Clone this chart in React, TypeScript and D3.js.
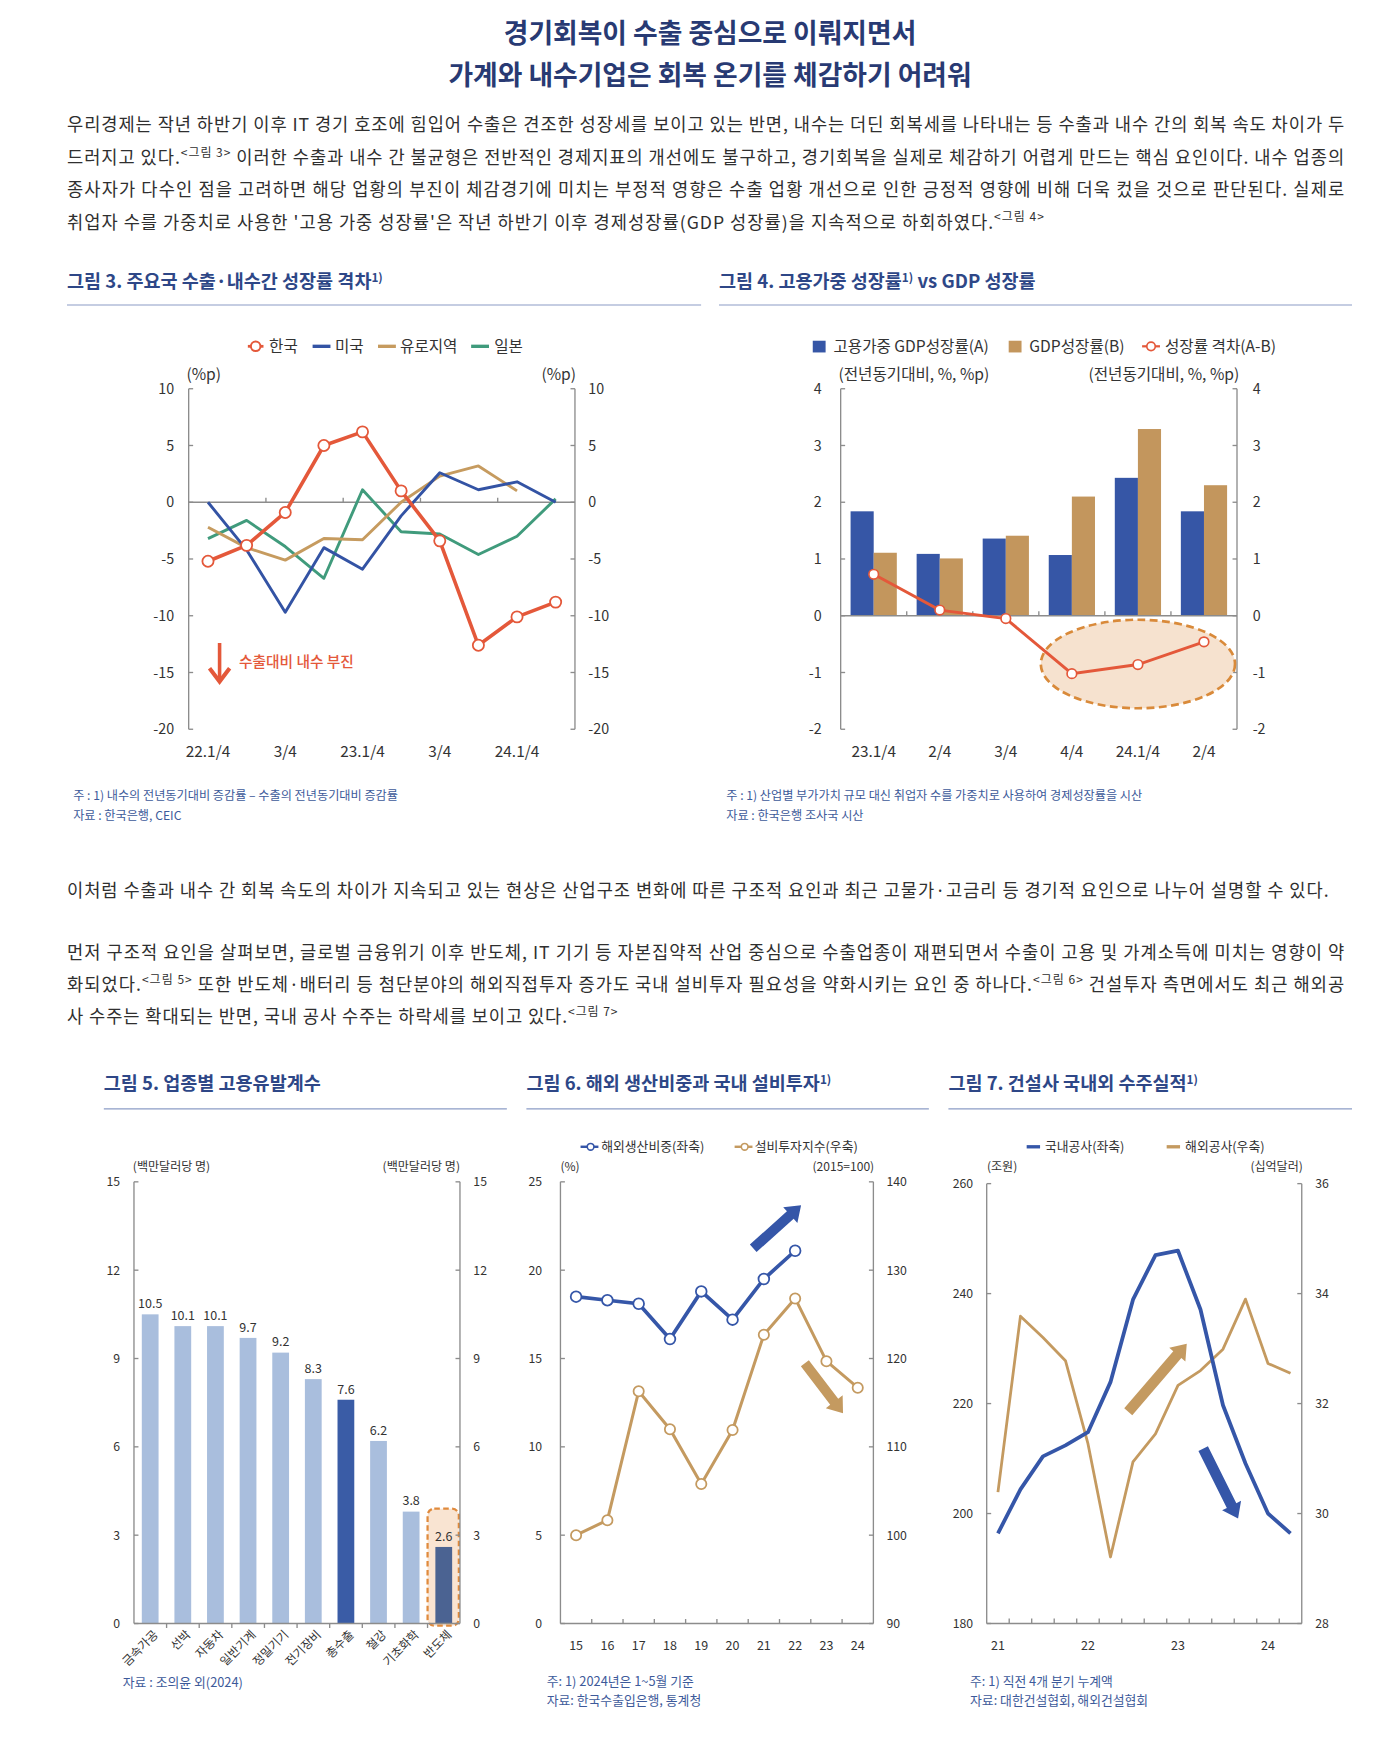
import React from 'react';
import * as d3 from 'd3';

const FONT = "'Noto Sans CJK KR', 'Noto Sans', sans-serif";
const AXIS = '#8c8c8c';
const TXT = '#333333';
const NAVY = '#2e4787';
const NOTE = '#3d5a9a';

// ---------- Figure 3 data ----------
const fig3TickLabels = ['22.1/4', '', '3/4', '', '23.1/4', '', '3/4', '', '24.1/4', ''];
const fig3Korea = [-5.2, -3.8, -0.9, 5.0, 6.2, 1.0, -3.4, -12.6, -10.1, -8.8];
const fig3US = [0.0, -4.2, -9.7, -4.0, -5.9, -1.2, 2.6, 1.1, 1.8, 0.0];
const fig3Euro = [-2.2, -4.0, -5.1, -3.2, -3.3, 0.0, 2.3, 3.2, 1.0, null];
const fig3Japan = [-3.2, -1.6, -3.9, -6.7, 1.1, -2.6, -2.8, -4.6, -3.0, 0.3];
const fig3YTicks = [-20, -15, -10, -5, 0, 5, 10];
const fig3Arrow = [[0.3, -12.4], [0.3, -15.8]];

// ---------- Figure 4 data ----------
const fig4Cats = ['23.1/4', '2/4', '3/4', '4/4', '24.1/4', '2/4'];
const fig4EmpGDP = [1.84, 1.09, 1.36, 1.07, 2.43, 1.84];
const fig4GDP = [1.11, 1.01, 1.41, 2.10, 3.29, 2.30];
const fig4Gap = [0.73, 0.10, -0.05, -1.02, -0.86, -0.46];
const fig4YTicks = [-2, -1, 0, 1, 2, 3, 4];

// ---------- Figure 5 data ----------
const fig5Cats = ['금속가공', '선박', '자동차', '일반기계', '정밀기기', '전기장비', '총수출', '철강', '기초화학', '반도체'];
const fig5Vals = [10.5, 10.1, 10.1, 9.7, 9.2, 8.3, 7.6, 6.2, 3.8, 2.6];
const fig5YTicks = [0, 3, 6, 9, 12, 15];

// ---------- Figure 6 data ----------
const fig6Years = ['15', '16', '17', '18', '19', '20', '21', '22', '23', '24'];
const fig6Share = [18.5, 18.3, 18.1, 16.1, 18.8, 17.2, 19.5, 21.1];
const fig6Capex = [100.0, 101.7, 116.3, 112.0, 105.8, 111.9, 122.7, 126.8, 119.7, 116.7];
const fig6LeftTicks = [0, 5, 10, 15, 20, 25];
const fig6RightTicks = [90, 100, 110, 120, 130, 140];
const fig6ArrowUp = [[5.66, 21.24], [7.19, 23.67]];
const fig6ArrowDown = [[7.31, 14.73], [8.53, 11.9]];

// ---------- Figure 7 data ----------
const fig7TickLabels = ['21', '', '', '', '22', '', '', '', '23', '', '', '', '24', ''];
const fig7Domestic = [196.4, 204.4, 210.4, 212.4, 214.8, 223.9, 238.9, 247.0, 247.8, 237.1, 219.7, 209.1, 200.0, 196.4];
const fig7Overseas = [30.39, 33.59, 33.2, 32.78, 31.27, 29.21, 30.94, 31.45, 32.33, 32.6, 32.99, 33.9, 32.73, 32.55];
const fig7LeftTicks = [180, 200, 220, 240, 260];
const fig7RightTicks = [28, 30, 32, 34, 36];
const fig7ArrowUp = [[5.79, 218.5], [8.39, 230.9]];
const fig7ArrowDown = [[9.12, 211.8], [10.67, 199.1]];

// ---------- text ----------
const PARA1 = [
  ['우리경제는 작년 하반기 이후 IT 경기 호조에 힘입어 수출은 견조한 성장세를 보이고 있는 반면, 내수는 더딘 회복세를 나타내는 등 수출과 내수 간의 회복 속도 차이가 두'],
  ['드러지고 있다.', { sup: '<그림 3>' }, ' 이러한 수출과 내수 간 불균형은 전반적인 경제지표의 개선에도 불구하고, 경기회복을 실제로 체감하기 어렵게 만드는 핵심 요인이다. 내수 업종의'],
  ['종사자가 다수인 점을 고려하면 해당 업황의 부진이 체감경기에 미치는 부정적 영향은 수출 업황 개선으로 인한 긍정적 영향에 비해 더욱 컸을 것으로 판단된다. 실제로'],
  ["취업자 수를 가중치로 사용한 '고용 가중 성장률'은 작년 하반기 이후 경제성장률(GDP 성장률)을 지속적으로 하회하였다.", { sup: '<그림 4>' }],
];
const PARA1_W = [1144, 1144, 1144, 875];
const PARA2 = [
  ['이처럼 수출과 내수 간 회복 속도의 차이가 지속되고 있는 현상은 산업구조 변화에 따른 구조적 요인과 최근 고물가·고금리 등 경기적 요인으로 나누어 설명할 수 있다.'],
  ['먼저 구조적 요인을 살펴보면, 글로벌 금융위기 이후 반도체, IT 기기 등 자본집약적 산업 중심으로 수출업종이 재편되면서 수출이 고용 및 가계소득에 미치는 영향이 약'],
  ['화되었다.', { sup: '<그림 5>' }, ' 또한 반도체·배터리 등 첨단분야의 해외직접투자 증가도 국내 설비투자 필요성을 약화시키는 요인 중 하나다.', { sup: '<그림 6>' }, ' 건설투자 측면에서도 최근 해외공'],
  ['사 수주는 확대되는 반면, 국내 공사 수주는 하락세를 보이고 있다.', { sup: '<그림 7>' }],
];
const PARA2_W = [1130, 1144, 1144, 493];
const PARA2_Y = [803.5, 858.5, 887.5, 916.5];

function TextLine({ x, y, segs, width, size, fill }: any) {
  const out: any[] = [];
  let raised = false;
  const sh = size * 0.4;
  segs.forEach((s: any, i: number) => {
    if (typeof s === 'string') {
      out.push(<tspan key={i} dy={raised ? sh : 0}>{s}</tspan>);
      raised = false;
    } else {
      out.push(<tspan key={i} fontSize={size * 0.68} dy={-sh}>{s.sup}</tspan>);
      raised = true;
    }
  });
  return (
    <text x={x} y={y} fontSize={size} fill={fill} textLength={width} lengthAdjust="spacing" style={{ whiteSpace: 'pre' }}>
      {out}
    </text>
  );
}

function Heading({ x, y, x2, ruleY, segs }: any) {
  const size = 16.6;
  const out: any[] = [];
  let raised = false;
  segs.forEach((s: any, i: number) => {
    if (typeof s === 'string') {
      out.push(<tspan key={i} dy={raised ? 6 : 0}>{s}</tspan>);
      raised = false;
    } else {
      out.push(<tspan key={i} fontSize={10.5} dy={-6}>{s.sup}</tspan>);
      raised = true;
    }
  });
  return (
    <g>
      <text x={x} y={y} fontSize={size} fontWeight={700} fill={NAVY} style={{ whiteSpace: 'pre' }}>{out}</text>
      <line x1={x} x2={x2} y1={ruleY} y2={ruleY} stroke="#8b9cc6" strokeWidth={1} />
    </g>
  );
}

function thickArrow(x1: number, y1: number, x2: number, y2: number, sw: number, hw: number, hl: number) {
  const dx = x2 - x1, dy = y2 - y1, L = Math.hypot(dx, dy);
  const ux = dx / L, uy = dy / L, nx = -uy, ny = ux;
  const bx = x2 - ux * hl, by = y2 - uy * hl;
  const pts = [
    [x1 + nx * sw / 2, y1 + ny * sw / 2],
    [bx + nx * sw / 2, by + ny * sw / 2],
    [bx + nx * hw / 2, by + ny * hw / 2],
    [x2, y2],
    [bx - nx * hw / 2, by - ny * hw / 2],
    [bx - nx * sw / 2, by - ny * sw / 2],
    [x1 - nx * sw / 2, y1 - ny * sw / 2],
  ];
  return 'M' + pts.map(p => p[0].toFixed(2) + ',' + p[1].toFixed(2)).join('L') + 'Z';
}

function Header() {
  return (
    <g>
      <text x={636} y={38.5} textAnchor="middle" fontSize={24} fontWeight={700} fill="#283a73">경기회복이 수출 중심으로 이뤄지면서</text>
      <text x={636} y={75.5} textAnchor="middle" fontSize={24} fontWeight={700} fill="#283a73">가계와 내수기업은 회복 온기를 체감하기 어려워</text>
      {PARA1.map((segs, i) => (
        <TextLine key={i} x={60} y={117.5 + i * 29} segs={segs} width={PARA1_W[i]} size={15.8} fill="#2f2f2f" />
      ))}
    </g>
  );
}

function MiddleText() {
  return (
    <g>
      {PARA2.map((segs, i) => (
        <TextLine key={i} x={60} y={PARA2_Y[i]} segs={segs} width={PARA2_W[i]} size={15.8} fill="#2f2f2f" />
      ))}
    </g>
  );
}

function Fig3() {
  const n = fig3Korea.length;
  const x = d3.scaleLinear().domain([-0.5, n - 0.5]).range([169, 515]);
  const y = d3.scaleLinear().domain([-20, 10]).range([653, 348]);
  const line = d3.line<any>().defined((d: any) => d != null).x((_d: any, i: number) => x(i)).y((d: any) => y(d));
  const series = [
    { data: fig3Japan, color: '#409b7c', w: 2.6 },
    { data: fig3Euro, color: '#c69b5f', w: 2.6 },
    { data: fig3US, color: '#3353a4', w: 2.6 },
  ];
  const KOR = '#e4583a';
  const ax = x(fig3Arrow[0][0]);
  const ay1 = y(fig3Arrow[0][1]);
  const ay2 = y(fig3Arrow[1][1]);
  return (
    <g>
      <Heading x={60} y={258} x2={628} ruleY={273} segs={['그림 3. 주요국 수출·내수간 성장률 격차', { sup: '1)' }]} />
      {/* legend */}
      <g fontSize={14} fill={TXT}>
        <line x1={222} x2={236} y1={310} y2={310} stroke={KOR} strokeWidth={2.5} />
        <circle cx={229} cy={310} r={4.3} fill="#fff" stroke={KOR} strokeWidth={1.8} />
        <text x={241} y={315}>한국</text>
        <line x1={280} x2={296} y1={310} y2={310} stroke="#3353a4" strokeWidth={3} />
        <text x={300} y={315}>미국</text>
        <line x1={338.6} x2={354.6} y1={310} y2={310} stroke="#c69b5f" strokeWidth={3} />
        <text x={358.3} y={315}>유로지역</text>
        <line x1={422} x2={438} y1={310} y2={310} stroke="#409b7c" strokeWidth={3} />
        <text x={442.6} y={315}>일본</text>
      </g>
      <text x={167} y={340} fontSize={14} fill={TXT}>(%p)</text>
      <text x={516} y={340} fontSize={14} fill={TXT} textAnchor="end">(%p)</text>
      {/* axes */}
      <line x1={169} x2={169} y1={y(10)} y2={y(-20)} stroke={AXIS} strokeWidth={1.2} />
      <line x1={515} x2={515} y1={y(10)} y2={y(-20)} stroke={AXIS} strokeWidth={1.2} />
      <line x1={169} x2={515} y1={y(0)} y2={y(0)} stroke={AXIS} strokeWidth={1.2} />
      {fig3YTicks.map(t => (
        <g key={t}>
          <line x1={169} x2={173} y1={y(t)} y2={y(t)} stroke={AXIS} strokeWidth={1.2} />
          <line x1={511} x2={515} y1={y(t)} y2={y(t)} stroke={AXIS} strokeWidth={1.2} />
          <text x={156} y={y(t) + 4.5} fontSize={12.8} textAnchor="end" fill={TXT}>{t}</text>
          <text x={527} y={y(t) + 4.5} fontSize={12.8} fill={TXT}>{t}</text>
        </g>
      ))}
      {[1, 3, 5, 7].map(i => (
        <line key={i} x1={x(i + 0.5)} x2={x(i + 0.5)} y1={y(0)} y2={y(0) - 4} stroke={AXIS} strokeWidth={1.2} />
      ))}
      {fig3TickLabels.map((l, i) => l ? (
        <text key={i} x={x(i)} y={678} fontSize={13.8} textAnchor="middle" fill={TXT}>{l}</text>
      ) : null)}
      {/* lines */}
      {series.map((s, k) => (
        <path key={k} d={line(s.data as any) || ''} fill="none" stroke={s.color} strokeWidth={s.w} strokeLinejoin="round" />
      ))}
      <path d={line(fig3Korea as any) || ''} fill="none" stroke={KOR} strokeWidth={3.2} strokeLinejoin="round" />
      {fig3Korea.map((v, i) => (
        <circle key={i} cx={x(i)} cy={y(v)} r={5} fill="#fff" stroke={KOR} strokeWidth={1.6} />
      ))}
      {/* annotation */}
      <line x1={ax} x2={ax} y1={ay1} y2={ay2 - 1} stroke={KOR} strokeWidth={3.2} />
      <polyline points={`${ax - 9},${ay2 - 12} ${ax},${ay2} ${ax + 9},${ay2 - 12}`} fill="none" stroke={KOR} strokeWidth={3.6} strokeLinejoin="miter" />
      <text x={214} y={597.5} fontSize={13.2} fontWeight={500} fill={KOR}>수출대비 내수 부진</text>
      {/* notes */}
      <text x={65.5} y={716.5} fontSize={10.9} fill={NOTE}>주 : 1) 내수의 전년동기대비 증감률 – 수출의 전년동기대비 증감률</text>
      <text x={65.5} y={734} fontSize={10.9} fill={NOTE}>자료 : 한국은행, CEIC</text>
    </g>
  );
}

function Fig4() {
  const idx = d3.range(fig4Cats.length);
  const x0 = d3.scaleBand<number>().domain(idx).range([753, 1108]).paddingInner(0.3).paddingOuter(0.15);
  const x1 = d3.scaleBand<string>().domain(['A', 'B']).range([0, x0.bandwidth()]);
  const y = d3.scaleLinear().domain([-2, 4]).range([653, 348]);
  const cx = (i: number) => (x0(i) as number) + x0.bandwidth() / 2;
  const line = d3.line<number>().x((_d, i) => cx(i)).y(d => y(d));
  const BLUE = '#3656a6', TAN = '#c3965d', OR = '#e4583a';
  const step = x0.step();
  return (
    <g>
      <Heading x={644} y={258} x2={1211} ruleY={273} segs={['그림 4. 고용가중 성장률', { sup: '1)' }, ' vs GDP 성장률']} />
      <g fontSize={14} fill={TXT}>
        <rect x={728} y={305} width={11.5} height={10.5} fill={BLUE} />
        <text x={746.5} y={315}>고용가중 GDP성장률(A)</text>
        <rect x={903.5} y={305} width={11.5} height={10.5} fill={TAN} />
        <text x={922} y={315}>GDP성장률(B)</text>
        <line x1={1023} x2={1039} y1={310} y2={310} stroke={OR} strokeWidth={2} />
        <circle cx={1031} cy={310} r={3.8} fill="#fff" stroke={OR} strokeWidth={1.5} />
        <text x={1043.5} y={315}>성장률 격차(A-B)</text>
      </g>
      <text x={751} y={340} fontSize={14} fill={TXT}>(전년동기대비, %, %p)</text>
      <text x={1110} y={340} fontSize={14} fill={TXT} textAnchor="end">(전년동기대비, %, %p)</text>
      {/* bars */}
      {idx.map(i => (
        <g key={i}>
          <rect x={(x0(i) as number) + (x1('A') as number)} y={y(fig4EmpGDP[i])} width={x1.bandwidth()} height={y(0) - y(fig4EmpGDP[i])} fill={BLUE} />
          <rect x={(x0(i) as number) + (x1('B') as number)} y={y(fig4GDP[i])} width={x1.bandwidth()} height={y(0) - y(fig4GDP[i])} fill={TAN} />
        </g>
      ))}
      {/* axes */}
      <line x1={753} x2={753} y1={y(4)} y2={y(-2)} stroke={AXIS} strokeWidth={1.2} />
      <line x1={1108} x2={1108} y1={y(4)} y2={y(-2)} stroke={AXIS} strokeWidth={1.2} />
      <line x1={753} x2={1108} y1={y(0)} y2={y(0)} stroke={AXIS} strokeWidth={1.2} />
      {fig4YTicks.map(t => (
        <g key={t}>
          <line x1={753} x2={757} y1={y(t)} y2={y(t)} stroke={AXIS} strokeWidth={1.2} />
          <line x1={1104} x2={1108} y1={y(t)} y2={y(t)} stroke={AXIS} strokeWidth={1.2} />
          <text x={736} y={y(t) + 4.5} fontSize={12.8} textAnchor="end" fill={TXT}>{t}</text>
          <text x={1122} y={y(t) + 4.5} fontSize={12.8} fill={TXT}>{t}</text>
        </g>
      ))}
      {idx.slice(1).map(i => (
        <line key={i} x1={753 + step * i} x2={753 + step * i} y1={y(0)} y2={y(0) - 4} stroke={AXIS} strokeWidth={1.2} />
      ))}
      {fig4Cats.map((l, i) => (
        <text key={i} x={cx(i)} y={678} fontSize={13.8} textAnchor="middle" fill={TXT}>{l}</text>
      ))}
      {/* ellipse */}
      <ellipse cx={cx(4)} cy={y(-0.85)} rx={step * 1.47} ry={y(-1.63) - y(-0.85)} fill="#f6e2cf" stroke="#d98a3a" strokeWidth={2.4} strokeDasharray="7 4" />
      <path d={line(fig4Gap) || ''} fill="none" stroke={OR} strokeWidth={2.6} />
      {fig4Gap.map((v, i) => (
        <circle key={i} cx={cx(i)} cy={y(v)} r={4.3} fill="#fff" stroke={OR} strokeWidth={1.5} />
      ))}
      <text x={650.5} y={716.5} fontSize={10.9} fill={NOTE}>주 : 1) 산업별 부가가치 규모 대신 취업자 수를 가중치로 사용하여 경제성장률을 시산</text>
      <text x={650.5} y={734} fontSize={10.9} fill={NOTE}>자료 : 한국은행 조사국 시산</text>
    </g>
  );
}

function Fig5() {
  const x = d3.scaleBand<string>().domain(fig5Cats).range([120, 412]).paddingInner(0.486).paddingOuter(0.24);
  const y = d3.scaleLinear().domain([0, 15]).range([1454, 1058.4]);
  const LIGHT = '#a9bedd', DARK = '#3a5ca6', SEMI = '#4b6392';
  const color = (c: string) => c === '총수출' ? DARK : c === '반도체' ? SEMI : LIGHT;
  const semiX = x('반도체') as number;
  const step = x.step();
  return (
    <g>
      <Heading x={93} y={976.5} x2={454} ruleY={993} segs={['그림 5. 업종별 고용유발계수']} />
      <text x={119} y={1049} fontSize={10.8} fill={TXT}>(백만달러당 명)</text>
      <text x={412} y={1049} fontSize={10.8} fill={TXT} textAnchor="end">(백만달러당 명)</text>
      <rect x={semiX - 7} y={y(3.9)} width={x.bandwidth() + 13} height={y(0) - y(3.9) + 2} rx={6} fill="#f9e4d2" stroke="#e08a3c" strokeWidth={2} strokeDasharray="5 3" />
      {fig5Cats.map((c, i) => (
        <g key={c}>
          <rect x={x(c)} y={y(fig5Vals[i])} width={x.bandwidth()} height={y(0) - y(fig5Vals[i])} fill={color(c)} />
          <text x={(x(c) as number) + x.bandwidth() / 2} y={y(fig5Vals[i]) - 5.5} fontSize={11.2} textAnchor="middle" fill={TXT}>{fig5Vals[i].toFixed(1)}</text>
          <text transform={`translate(${(x(c) as number) + x.bandwidth() / 2 + 5},${1462}) rotate(-45)`} fontSize={10.8} textAnchor="end" dy="0.35em" fill={TXT}>{c}</text>
        </g>
      ))}
      <line x1={120} x2={120} y1={y(15)} y2={y(0)} stroke={AXIS} strokeWidth={1.2} />
      <line x1={412} x2={412} y1={y(15)} y2={y(0)} stroke={AXIS} strokeWidth={1.2} />
      <line x1={120} x2={412} y1={y(0)} y2={y(0)} stroke={AXIS} strokeWidth={1.4} />
      {fig5YTicks.map(t => (
        <g key={t}>
          <line x1={120} x2={124} y1={y(t)} y2={y(t)} stroke={AXIS} strokeWidth={1.2} />
          <line x1={408} x2={412} y1={y(t)} y2={y(t)} stroke={AXIS} strokeWidth={1.2} />
          <text x={107.5} y={y(t) + 4} fontSize={11} textAnchor="end" fill={TXT}>{t}</text>
          <text x={424} y={y(t) + 4} fontSize={11} fill={TXT}>{t}</text>
        </g>
      ))}
      {d3.range(1, fig5Cats.length).map(i => (
        <line key={i} x1={120 + step * i} x2={120 + step * i} y1={y(0)} y2={y(0) + 4} stroke={AXIS} strokeWidth={1.2} />
      ))}
      <text x={110} y={1511} fontSize={11.5} fill={NOTE}>자료 : 조의윤 외(2024)</text>
    </g>
  );
}

function Fig6() {
  const n = fig6Years.length;
  const x = d3.scaleLinear().domain([-0.5, n - 0.5]).range([502, 782.3]);
  const yL = d3.scaleLinear().domain([0, 25]).range([1454, 1058.4]);
  const yR = d3.scaleLinear().domain([90, 140]).range([1454, 1058.4]);
  const lineL = d3.line<number>().x((_d, i) => x(i)).y(d => yL(d));
  const lineR = d3.line<number>().x((_d, i) => x(i)).y(d => yR(d));
  const BLUE = '#3556a8', TAN = '#c49a60';
  return (
    <g>
      <Heading x={471.5} y={976.5} x2={832} ruleY={993} segs={['그림 6. 해외 생산비중과 국내 설비투자', { sup: '1)' }]} />
      <g fontSize={11.5} fill={TXT}>
        <line x1={520} x2={536} y1={1027} y2={1027} stroke={BLUE} strokeWidth={2.2} />
        <circle cx={529} cy={1027} r={3} fill="#fff" stroke={BLUE} strokeWidth={1.4} />
        <text x={538.5} y={1031}>해외생산비중(좌축)</text>
        <line x1={658} x2={674} y1={1027} y2={1027} stroke={TAN} strokeWidth={2.2} />
        <circle cx={667} cy={1027} r={3} fill="#fff" stroke={TAN} strokeWidth={1.4} />
        <text x={676} y={1031}>설비투자지수(우축)</text>
      </g>
      <text x={502} y={1049} fontSize={10.8} fill={TXT}>(%)</text>
      <text x={783} y={1049} fontSize={10.8} fill={TXT} textAnchor="end">(2015=100)</text>
      <line x1={502} x2={502} y1={1058.4} y2={1454} stroke={AXIS} strokeWidth={1.2} />
      <line x1={782.3} x2={782.3} y1={1058.4} y2={1454} stroke={AXIS} strokeWidth={1.2} />
      <line x1={502} x2={782.3} y1={1454} y2={1454} stroke={AXIS} strokeWidth={1.4} />
      {fig6LeftTicks.map((t, k) => (
        <g key={t}>
          <line x1={502} x2={506} y1={yL(t)} y2={yL(t)} stroke={AXIS} strokeWidth={1.2} />
          <line x1={778.3} x2={782.3} y1={yL(t)} y2={yL(t)} stroke={AXIS} strokeWidth={1.2} />
          <text x={485.6} y={yL(t) + 4} fontSize={11} textAnchor="end" fill={TXT}>{t}</text>
          <text x={794} y={yR(fig6RightTicks[k]) + 4} fontSize={11} fill={TXT}>{fig6RightTicks[k]}</text>
        </g>
      ))}
      {d3.range(0, n - 1).map(i => (
        <line key={i} x1={x(i + 0.5)} x2={x(i + 0.5)} y1={1454} y2={1450} stroke={AXIS} strokeWidth={1.2} />
      ))}
      {fig6Years.map((l, i) => (
        <text key={i} x={x(i)} y={1478} fontSize={11.2} textAnchor="middle" fill={TXT}>{l}</text>
      ))}
      <path d={thickArrow(x(fig6ArrowUp[0][0]), yL(fig6ArrowUp[0][1]), x(fig6ArrowUp[1][0]), yL(fig6ArrowUp[1][1]), 9, 19, 13)} fill={BLUE} />
      <path d={thickArrow(x(fig6ArrowDown[0][0]), yL(fig6ArrowDown[0][1]), x(fig6ArrowDown[1][0]), yL(fig6ArrowDown[1][1]), 9, 19, 13)} fill={TAN} />
      <path d={lineR(fig6Capex) || ''} fill="none" stroke={TAN} strokeWidth={2.7} />
      {fig6Capex.map((v, i) => (
        <circle key={i} cx={x(i)} cy={yR(v)} r={4.6} fill="#fff" stroke={TAN} strokeWidth={1.6} />
      ))}
      <path d={lineL(fig6Share) || ''} fill="none" stroke={BLUE} strokeWidth={3.3} />
      {fig6Share.map((v, i) => (
        <circle key={i} cx={x(i)} cy={yL(v)} r={4.8} fill="#fff" stroke={BLUE} strokeWidth={1.6} />
      ))}
      <text x={489.7} y={1510} fontSize={11.5} fill={NOTE}>주: 1) 2024년은 1~5월 기준</text>
      <text x={489.7} y={1527} fontSize={11.5} fill={NOTE}>자료: 한국수출입은행, 통계청</text>
    </g>
  );
}

function Fig7() {
  const n = fig7Domestic.length;
  const x = d3.scaleLinear().domain([-0.5, n - 0.5]).range([883.8, 1166]);
  const yL = d3.scaleLinear().domain([180, 260]).range([1454, 1060]);
  const yR = d3.scaleLinear().domain([28, 36]).range([1454, 1060]);
  const lineL = d3.line<number>().x((_d, i) => x(i)).y(d => yL(d));
  const lineR = d3.line<number>().x((_d, i) => x(i)).y(d => yR(d));
  const BLUE = '#3556a8', TAN = '#c49a60';
  return (
    <g>
      <Heading x={849.5} y={976.5} x2={1211} ruleY={993} segs={['그림 7. 건설사 국내외 수주실적', { sup: '1)' }]} />
      <g fontSize={11.5} fill={TXT}>
        <line x1={919.6} x2={931.6} y1={1027} y2={1027} stroke={BLUE} strokeWidth={3} />
        <text x={936} y={1031}>국내공사(좌축)</text>
        <line x1={1045} x2={1057} y1={1027} y2={1027} stroke={TAN} strokeWidth={3} />
        <text x={1061.5} y={1031}>해외공사(우축)</text>
      </g>
      <text x={884} y={1049} fontSize={10.8} fill={TXT}>(조원)</text>
      <text x={1167} y={1049} fontSize={10.8} fill={TXT} textAnchor="end">(십억달러)</text>
      <line x1={883.8} x2={883.8} y1={1060} y2={1454} stroke={AXIS} strokeWidth={1.2} />
      <line x1={1166} x2={1166} y1={1060} y2={1454} stroke={AXIS} strokeWidth={1.2} />
      <line x1={883.8} x2={1166} y1={1454} y2={1454} stroke={AXIS} strokeWidth={1.4} />
      {fig7LeftTicks.map((t, k) => (
        <g key={t}>
          <line x1={883.8} x2={887.8} y1={yL(t)} y2={yL(t)} stroke={AXIS} strokeWidth={1.2} />
          <line x1={1162} x2={1166} y1={yL(t)} y2={yL(t)} stroke={AXIS} strokeWidth={1.2} />
          <text x={871.6} y={yL(t) + 4} fontSize={11} textAnchor="end" fill={TXT}>{t}</text>
          <text x={1178} y={yR(fig7RightTicks[k]) + 4} fontSize={11} fill={TXT}>{fig7RightTicks[k]}</text>
        </g>
      ))}
      {d3.range(0, n - 1).map(i => (
        <line key={i} x1={x(i + 0.5)} x2={x(i + 0.5)} y1={1454} y2={1449.5} stroke={AXIS} strokeWidth={1.2} />
      ))}
      {fig7TickLabels.map((l, i) => l ? (
        <text key={i} x={x(i)} y={1478} fontSize={11.2} textAnchor="middle" fill={TXT}>{l}</text>
      ) : null)}
      <path d={thickArrow(x(fig7ArrowUp[0][0]), yL(fig7ArrowUp[0][1]), x(fig7ArrowUp[1][0]), yL(fig7ArrowUp[1][1]), 9.5, 19, 13)} fill={TAN} />
      <path d={thickArrow(x(fig7ArrowDown[0][0]), yL(fig7ArrowDown[0][1]), x(fig7ArrowDown[1][0]), yL(fig7ArrowDown[1][1]), 9.5, 19, 13)} fill={BLUE} />
      <path d={lineR(fig7Overseas) || ''} fill="none" stroke={TAN} strokeWidth={2.5} strokeLinejoin="round" />
      <path d={lineL(fig7Domestic) || ''} fill="none" stroke={BLUE} strokeWidth={3.4} strokeLinejoin="round" />
      <text x={868.9} y={1510} fontSize={11.5} fill={NOTE}>주: 1) 직전 4개 분기 누계액</text>
      <text x={868.9} y={1527} fontSize={11.5} fill={NOTE}>자료: 대한건설협회, 해외건설협회</text>
    </g>
  );
}

export default function App() {
  return (
    <svg
      width={1400}
      height={1751}
      viewBox="0 0 1254 1568"
      style={{ position: 'absolute', left: 0, top: 0, display: 'block', background: '#fff' }}
      fontFamily={FONT}
    >
      <rect x={0} y={0} width={1254} height={1568} fill="#fff" />
      <Header />
      <Fig3 />
      <Fig4 />
      <MiddleText />
      <Fig5 />
      <Fig6 />
      <Fig7 />
    </svg>
  );
}
